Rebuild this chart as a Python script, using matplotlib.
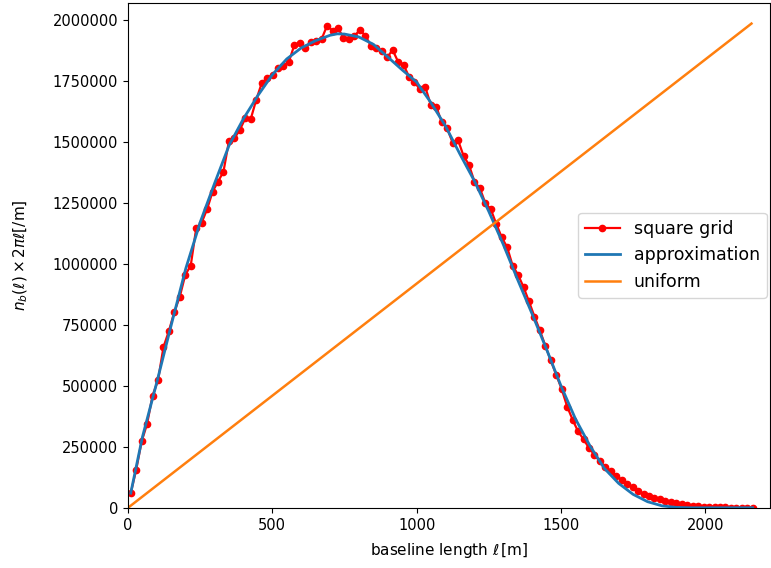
import numpy
from matplotlib import pyplot

# square grid: baseline length [m] and counts
grid_length = [9.5, 28.4, 47.3, 66.2, 85.1, 104.0, 122.9, 141.8, 160.7, 179.6,
               198.5, 217.4, 236.3, 255.2, 274.1, 293.0, 311.9, 330.8, 349.7, 368.6,
               387.5, 406.4, 425.3, 444.2, 463.1, 482.0, 500.9, 519.8, 538.7, 557.6,
               576.5, 595.4, 614.3, 633.2, 652.1, 671.0, 689.9, 708.8, 727.7, 746.6,
               765.5, 784.4, 803.3, 822.2, 841.1, 860.0, 878.9, 897.8, 916.7, 935.6,
               954.5, 973.4, 992.3, 1011.2, 1030.1, 1049.0, 1067.9, 1086.8, 1105.7, 1124.6,
               1143.5, 1162.4, 1181.3, 1200.2, 1219.1, 1238.0, 1256.9, 1275.8, 1294.7, 1313.6,
               1332.5, 1351.4, 1370.3, 1389.2, 1408.1, 1427.0, 1445.9, 1464.8, 1483.7, 1502.6,
               1521.5, 1540.4, 1559.3, 1578.2, 1597.1, 1616.0, 1634.9, 1653.8, 1672.7, 1691.6,
               1710.5, 1729.4, 1748.3, 1767.2, 1786.0, 1805.0, 1824.0, 1843.0, 1862.0, 1881.0,
               1900.0, 1918.0, 1937.0, 1956.0, 1975.0, 1994.0, 2013.0, 2032.0, 2051.0, 2070.0,
               2089.0, 2108.0, 2126.0, 2145.0, 2164.0]
grid_count = [60000, 156000, 272000, 344000, 460000, 522000, 659000, 725000, 803000, 866000,
              955000, 993000, 1146000, 1169000, 1224000, 1296000, 1337000, 1378000, 1503000, 1515000,
              1549000, 1597000, 1594000, 1672000, 1740000, 1762000, 1773000, 1802000, 1813000, 1829000,
              1898000, 1907000, 1884000, 1911000, 1914000, 1922000, 1977000, 1956000, 1966000, 1927000,
              1922000, 1934000, 1959000, 1936000, 1895000, 1884000, 1874000, 1846000, 1877000, 1829000,
              1816000, 1768000, 1745000, 1716000, 1724000, 1652000, 1645000, 1581000, 1556000, 1497000,
              1507000, 1443000, 1406000, 1337000, 1310000, 1249000, 1224000, 1164000, 1109000, 1068000,
              993000, 955000, 905000, 846000, 784000, 727000, 664000, 604000, 545000, 486000,
              415000, 361000, 313000, 281000, 245000, 217000, 190000, 169000, 149000, 131000,
              115000, 98000, 85000, 67000, 58000, 50000, 42000, 35000, 29000, 24000,
              19000, 15000, 12000, 9000, 7000, 5000, 4000, 3000, 2000, 1500,
              1000, 600, 300, 100, 0]

# smooth approximation
approx_length = [9.5, 50, 100, 150, 200, 250, 300, 350, 400, 450, 500, 550, 600, 650, 700,
                 725, 750, 800, 850, 900, 950, 1000, 1050, 1100, 1150, 1200, 1250, 1300, 1350,
                 1400, 1450, 1500, 1550, 1600, 1650, 1700, 1750, 1800, 1850, 1900, 1950, 2000, 2164]
approx_count = [60000, 290000, 515000, 750000, 980000, 1170000, 1330000, 1485000, 1595000, 1690000,
                1775000, 1840000, 1885000, 1915000, 1937000, 1943000, 1942000, 1930000, 1900000, 1848000,
                1795000, 1745000, 1660000, 1565000, 1450000, 1340000, 1215000, 1080000, 935000,
                795000, 650000, 500000, 365000, 255000, 162000, 100000, 55000, 25000, 8000, 1500, 0, 0, 0]

# uniform distribution
uniform_length = [0, 2160]
uniform_count = [0, 1985000]

fig = pyplot.figure(figsize=(7.71, 5.68), dpi=100)
ax = fig.add_axes([0.166, 0.106, 0.833, 0.889])

ax.plot(grid_length, grid_count, color='red', marker='o', markersize=4.5, linewidth=1.6, label='square grid')
ax.plot(approx_length, approx_count, color='C0', linewidth=2, label='approximation')
ax.plot(uniform_length, uniform_count, color='C1', linewidth=1.8, label='uniform')

ax.set_xlim(0, 2225)
ax.set_ylim(0, 2070000)
ax.set_xticks([0, 500, 1000, 1500, 2000])
ax.set_yticks(numpy.arange(0, 2000001, 250000))
ax.ticklabel_format(axis='y', style='plain', useOffset=False)
ax.xaxis.set_tick_params(labelsize=10.5)
ax.yaxis.set_tick_params(labelsize=10.5)
ax.set_xlabel(r'baseline length $\ell\,$[m]', fontsize=11, labelpad=6)
ax.set_ylabel(r'$n_b(\ell) \times 2\pi\ell$[/m]', fontsize=11, labelpad=16)
ax.legend(loc='center right', fontsize=12.5, borderaxespad=0.2)

pyplot.savefig('out.png', dpi=100)
